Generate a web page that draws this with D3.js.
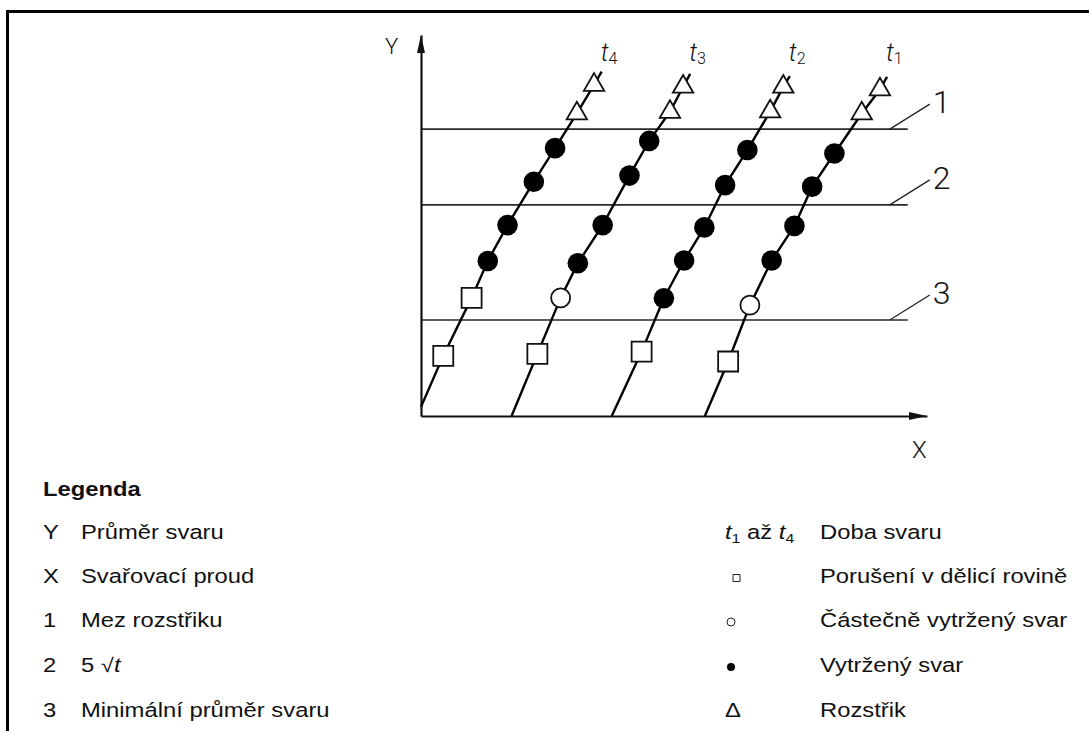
<!DOCTYPE html>
<html>
<head>
<meta charset="utf-8">
<script src="https://cdn.jsdelivr.net/npm/d3@7/dist/d3.min.js"></script>
<style>
  html, body { margin: 0; padding: 0; background: #fff; }
  svg { display: block; }
</style>
</head>
<body>
<svg id="chart" width="1089" height="731"></svg>
<script>
// Weld diameter vs. welding current for four weld times (t1..t4).
// Units are schematic (0–100 on both axes).
const seriesNames = ["t4", "t3", "t2", "t1"];

// Each series: polyline vertices and the kind of test result at each vertex
// ("sq" = interface failure, "open" = partial plug, "dot" = full plug, "tri" = expulsion, null = plain vertex)
const t4X = [0, 4.4, 10.0, 13.2, 17.1, 22.3, 26.5, 30.8, 34.2, 35.7];
const t4Y = [2.4, 15.8, 31.0, 40.7, 50.1, 61.5, 70.3, 79.4, 86.9, 90.4];
const t4Kind = [null, "sq", "sq", "dot", "dot", "dot", "dot", "tri", "tri", null];

const t3X = [17.9, 23.0, 27.6, 31.0, 35.9, 41.2, 45.1, 49.2, 51.8, 53.2];
const t3Y = [0, 16.3, 31.0, 40.1, 50.1, 63.1, 72.2, 79.8, 86.4, 89.8];
const t3Kind = [null, "sq", "open", "dot", "dot", "dot", "dot", "tri", "tri", null];

const t2X = [37.7, 43.6, 48.0, 52.0, 56.0, 60.1, 64.5, 69.0, 71.6, 72.9];
const t2Y = [0, 16.9, 30.9, 40.8, 49.5, 60.6, 69.8, 79.9, 86.4, 89.2];
const t2Kind = [null, "sq", "dot", "dot", "dot", "dot", "dot", "tri", "tri", null];

const t1X = [56.1, 60.7, 65.0, 69.3, 73.8, 77.3, 81.7, 87.1, 90.7, 92.1];
const t1Y = [0, 14.3, 29.1, 40.8, 49.9, 60.2, 68.9, 79.4, 85.7, 89.0];
const t1Kind = [null, "sq", "open", "dot", "dot", "dot", "dot", "tri", "tri", null];

// Horizontal reference levels: 1 expulsion limit, 2 5√t, 3 minimum weld diameter
const refLevels = [75.3, 55.4, 25.2];
const refLabels = ["1", "2", "3"];
const refEndX = 96.2;

// Legend rows
const legendLeftKeys = ["Y", "X", "1", "2", "3"];
const legendLeftTexts = ["Průměr svaru", "Svařovací proud", "Mez rozstřiku", "5 √t", "Minimální průměr svaru"];
const legendRightKeys = ["t1až t4", "sq", "open", "dot", "tri"];
const legendRightTexts = ["Doba svaru", "Porušení v dělicí rovině", "Částečně vytržený svar", "Vytržený svar", "Rozstřik"];

const series = [
  { name: seriesNames[0], xs: t4X, ys: t4Y, kinds: t4Kind },
  { name: seriesNames[1], xs: t3X, ys: t3Y, kinds: t3Kind },
  { name: seriesNames[2], xs: t2X, ys: t2Y, kinds: t2Kind },
  { name: seriesNames[3], xs: t1X, ys: t1Y, kinds: t1Kind }
];

const svg = d3.select("#chart");
const W = 1089, H = 731;
svg.append("rect").attr("width", W).attr("height", H).attr("fill", "#fff");

// Page frame (top and left rule)
svg.append("path")
  .attr("d", `M7.5,${H} V11.5 H${W}`)
  .attr("fill", "none").attr("stroke", "#000").attr("stroke-width", 3);

const x = d3.scaleLinear().domain([0, 100]).range([421, 927]);
const y = d3.scaleLinear().domain([0, 100]).range([416, 35]);

const drawFont = "Roboto, 'DejaVu Sans', sans-serif";
const plot = svg.append("g");

// Reference lines
plot.selectAll("line.ref").data(refLevels).join("line")
  .attr("class", "ref")
  .attr("x1", x(0)).attr("x2", x(refEndX))
  .attr("y1", d => y(d)).attr("y2", d => y(d))
  .attr("stroke", "#2a2a2a").attr("stroke-width", 1.7);

// Leaders and numbers for reference lines
refLevels.forEach((lv, i) => {
  const y0 = y(lv);
  plot.append("line")
    .attr("x1", x(refEndX) - 18).attr("y1", y0)
    .attr("x2", x(refEndX) + 22).attr("y2", y0 - 25)
    .attr("stroke", "#222").attr("stroke-width", 1.3);
  plot.append("text")
    .attr("x", x(refEndX) + 25).attr("y", y0 - 16)
    .attr("font-family", drawFont).attr("font-weight", 300)
    .attr("font-size", 32).attr("fill", "#111")
    .text(refLabels[i]);
});

// Axes (domain lines only) with arrow heads
const xAxis = d3.axisBottom(x).tickValues([]).tickSizeOuter(0);
const yAxis = d3.axisLeft(y).tickValues([]).tickSizeOuter(0);
plot.append("g").attr("transform", `translate(0,${y(0)})`).call(xAxis)
  .select(".domain").attr("stroke", "#111").attr("stroke-width", 2.2);
plot.append("g").attr("transform", `translate(${x(0)},0)`).call(yAxis)
  .select(".domain").attr("stroke", "#111").attr("stroke-width", 2.2);

plot.append("path")
  .attr("d", `M${x(100)},${y(0)} L${x(100) - 18},${y(0) - 4} L${x(100) - 18},${y(0) + 4} Z`)
  .attr("fill", "#111");
plot.append("path")
  .attr("d", `M${x(0)},${y(100)} L${x(0) - 4},${y(100) + 18} L${x(0) + 4},${y(100) + 18} Z`)
  .attr("fill", "#111");

plot.append("text").attr("x", x(0) - 36).attr("y", y(100) + 19)
  .attr("font-family", drawFont).attr("font-weight", 300).attr("font-size", 22).attr("fill", "#111")
  .text("Y");
plot.append("text").attr("x", x(100) - 15).attr("y", y(0) + 42)
  .attr("font-family", drawFont).attr("font-weight", 300).attr("font-size", 24).attr("fill", "#111")
  .text("X");

// Series lines
const line = d3.line().x(d => x(d[0])).y(d => y(d[1]));
series.forEach(s => {
  const pts = s.xs.map((v, i) => [v, s.ys[i]]);
  plot.append("path").datum(pts)
    .attr("d", line)
    .attr("fill", "none").attr("stroke", "#000").attr("stroke-width", 2.4);

  // Series name (t with subscript) above the line end
  const last = pts[pts.length - 1];
  const lbl = plot.append("text")
    .attr("x", x(last[0]) - 1).attr("y", 61)
    .attr("font-family", drawFont).attr("font-weight", 300).attr("fill", "#111");
  lbl.append("tspan").attr("font-size", 25).attr("font-style", "italic").text("t");
  lbl.append("tspan").attr("font-size", 16).attr("dy", 3).text(s.name.slice(1));
});

// Markers
const symbolOf = {
  sq: d3.symbol().type(d3.symbolSquare).size(20 * 20),
  open: d3.symbol().type(d3.symbolCircle).size(Math.PI * 9.5 * 9.5),
  dot: d3.symbol().type(d3.symbolCircle).size(Math.PI * 10.3 * 10.3),
  tri: d3.symbol().type(d3.symbolTriangle).size(180)
};
series.forEach(s => {
  const marks = s.xs.map((v, i) => ({ x: v, y: s.ys[i], k: s.kinds[i] })).filter(d => d.k);
  plot.append("g").selectAll("path").data(marks).join("path")
    .attr("transform", d => `translate(${x(d.x)},${y(d.y)})`)
    .attr("d", d => symbolOf[d.k]())
    .attr("fill", d => d.k === "dot" ? "#000" : "#fff")
    .attr("stroke", d => d.k === "dot" ? "none" : "#111")
    .attr("stroke-width", 1.8);
});

// Legend
const legFont = "'Liberation Sans', Arial, sans-serif";
const stretch = 1.22;
const rowY = [539, 583, 627, 672, 717];
const leg = svg.append("g").attr("font-family", legFont).attr("font-size", 19.5).attr("fill", "#111");

function legText(xp, yp) {
  return leg.append("text").attr("transform", `translate(${xp},${yp}) scale(${stretch},1)`);
}

legText(43, 496).attr("font-weight", "bold").text("Legenda");

legendLeftKeys.forEach((k, i) => {
  legText(43, rowY[i]).text(k);
  const t = legText(81, rowY[i]);
  if (legendLeftTexts[i].includes("√t")) {
    const parts = legendLeftTexts[i].split("t");
    t.append("tspan").text(parts[0]);
    t.append("tspan").attr("font-style", "italic").text("t");
  } else {
    t.text(legendLeftTexts[i]);
  }
});

legendRightKeys.forEach((k, i) => {
  const yp = rowY[i];
  if (k === "t1až t4") {
    const t = legText(725, yp);
    t.append("tspan").attr("font-style", "italic").text("t");
    t.append("tspan").attr("font-size", 13).attr("dy", 4).text("1");
    t.append("tspan").attr("dy", -4).text(" až ");
    t.append("tspan").attr("font-style", "italic").text("t");
    t.append("tspan").attr("font-size", 13).attr("dy", 4).text("4");
  } else if (k === "tri") {
    legText(725, yp).text("Δ");
  } else {
    const sz = k === "sq" ? 7 * 7 : Math.PI * 4 * 4;
    const sym = d3.symbol().type(k === "sq" ? d3.symbolSquare : d3.symbolCircle).size(sz);
    leg.append("path")
      .attr("transform", `translate(${k === "sq" ? 736.5 : 731},${yp - 5})`)
      .attr("d", sym())
      .attr("fill", k === "dot" ? "#000" : "#fff")
      .attr("stroke", k === "dot" ? "none" : "#222")
      .attr("stroke-width", 1);
  }
  legText(820, yp).text(legendRightTexts[i]);
});
</script>
</body>
</html>
